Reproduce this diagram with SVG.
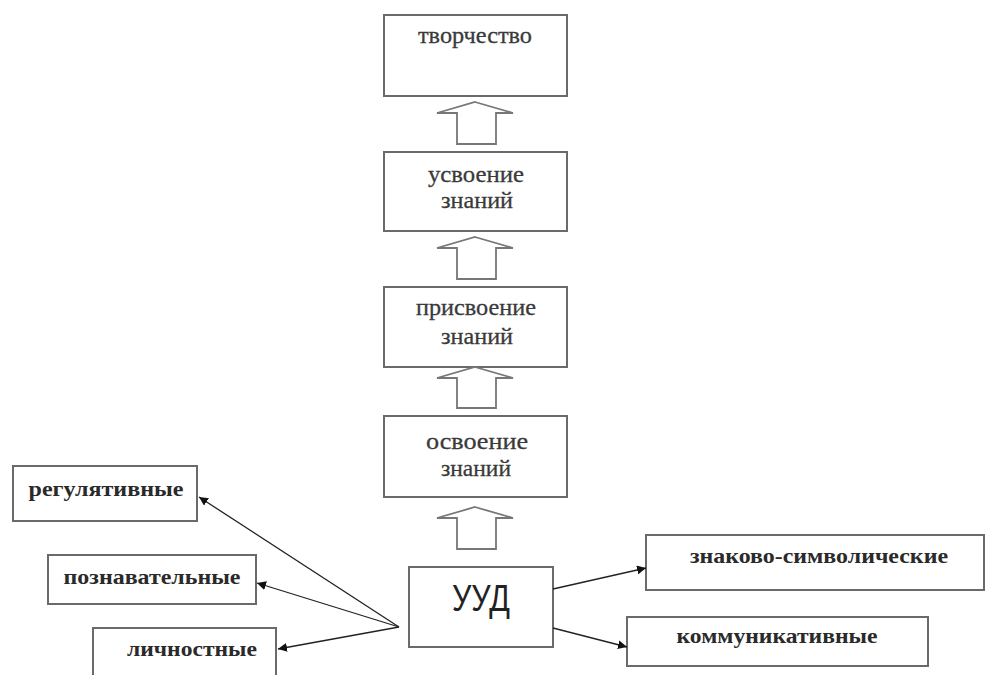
<svg xmlns="http://www.w3.org/2000/svg" width="986" height="675" viewBox="0 0 986 675">
<defs>
<style>
.box{fill:#fff;stroke:#6a6a6a;stroke-width:2}
.blk{fill:#fff;stroke:#777;stroke-width:1.8;stroke-linejoin:miter}
.t{font-family:"Liberation Serif","DejaVu Serif",serif;font-size:24px;fill:#3a3a3a;stroke:#3a3a3a;stroke-width:0.3;text-anchor:middle}
.b{font-family:"Liberation Serif","DejaVu Serif",serif;font-size:22px;font-weight:bold;fill:#2a2a2a;text-anchor:middle}
.c{stroke:#222;stroke-width:1.3;fill:none;marker-end:url(#ah)}
</style>
<marker id="ah" viewBox="0 0 10 10" refX="10" refY="5" markerWidth="9" markerHeight="9" markerUnits="userSpaceOnUse" orient="auto">
<path d="M0,0 L10,5 L0,10 z" fill="#111"/>
</marker>
</defs>
<rect width="986" height="675" fill="#fff"/>
<g id="tvorchestvo">
<rect class="box" x="384" y="15" width="183" height="81"/>
<text class="t" x="475" y="43" textLength="114" lengthAdjust="spacingAndGlyphs">творчество</text>
</g>
<g id="usvoenie">
<rect class="box" x="384" y="152" width="183" height="79"/>
<text class="t" x="476" y="182" textLength="96" lengthAdjust="spacingAndGlyphs">усвоение</text>
<text class="t" x="477" y="208" textLength="72" lengthAdjust="spacingAndGlyphs">знаний</text>
</g>
<g id="prisvoenie">
<rect class="box" x="384" y="287" width="183" height="80"/>
<text class="t" x="476" y="315" textLength="120" lengthAdjust="spacingAndGlyphs">присвоение</text>
<text class="t" x="477" y="344" textLength="72" lengthAdjust="spacingAndGlyphs">знаний</text>
</g>
<g id="osvoenie">
<rect class="box" x="384" y="416" width="183" height="81"/>
<text class="t" x="477" y="449" textLength="102" lengthAdjust="spacingAndGlyphs">освоение</text>
<text class="t" x="476" y="476" textLength="70" lengthAdjust="spacingAndGlyphs">знаний</text>
</g>
<g id="uud">
<rect class="box" x="409" y="567" width="144" height="80"/>
<text x="481" y="611" font-family="'Liberation Sans',Arial,sans-serif" font-size="37" fill="#222" text-anchor="middle" textLength="58" lengthAdjust="spacingAndGlyphs">УУД</text>
</g>
<g id="regulyativnye">
<rect class="box" x="13" y="466" width="184" height="55"/>
<text class="b" x="106" y="496" textLength="155" lengthAdjust="spacingAndGlyphs">регулятивные</text>
</g>
<g id="poznavatelnye">
<rect class="box" x="48" y="555" width="208" height="49"/>
<text class="b" x="152" y="584" textLength="177" lengthAdjust="spacingAndGlyphs">познавательные</text>
</g>
<g id="lichnostnye">
<rect class="box" x="93" y="628" width="183" height="60"/>
<text class="b" x="192" y="656" textLength="130" lengthAdjust="spacingAndGlyphs">личностные</text>
</g>
<g id="znakovo">
<rect class="box" x="646" y="535" width="338" height="55"/>
<text class="b" x="819" y="563" textLength="258" lengthAdjust="spacingAndGlyphs">знаково-символические</text>
</g>
<g id="kommunikativnye">
<rect class="box" x="627" y="617" width="301" height="49"/>
<text class="b" x="777" y="643" textLength="201" lengthAdjust="spacingAndGlyphs">коммуникативные</text>
</g>
<g id="connectors">
<polygon class="blk" points="475,102 513,113 496,113 496,144 457,144 457,113 437,113"/>
<polygon class="blk" points="475,237 513,248 496,248 496,279 457,279 457,248 437,248"/>
<polygon class="blk" points="475,367 513,378 496,378 496,408 457,408 457,378 437,378"/>
<polygon class="blk" points="475,507 513,518 496,518 496,549 457,549 457,518 437,518"/>
<line class="c" x1="399" y1="627" x2="199" y2="497"/>
<line class="c" x1="399" y1="627" x2="257" y2="583"/>
<line class="c" x1="399" y1="627" x2="278" y2="649"/>
<line class="c" x1="553" y1="589" x2="646" y2="568"/>
<line class="c" x1="553" y1="628" x2="627" y2="647"/>
</g>
</svg>
